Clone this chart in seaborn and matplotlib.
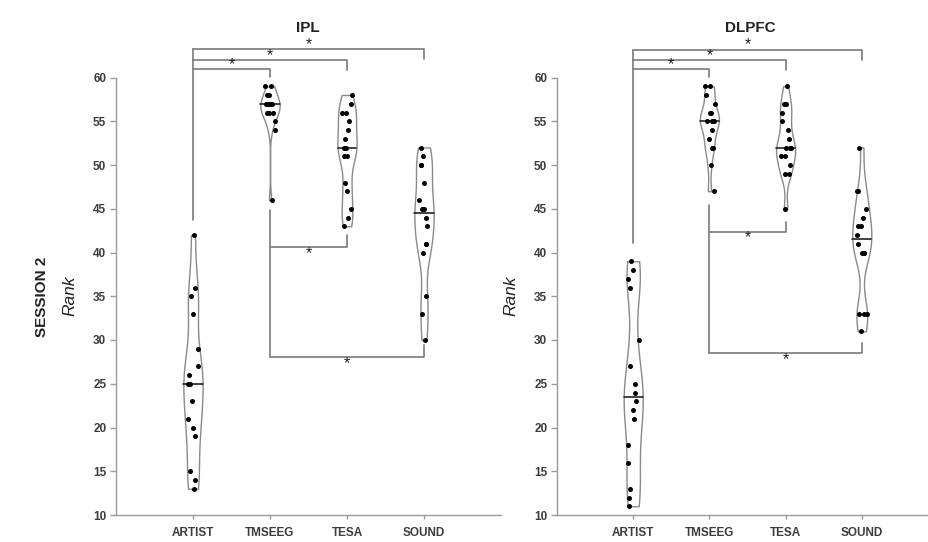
import numpy as np
import pandas as pd
import matplotlib
matplotlib.use("Agg")
import matplotlib.pyplot as plt
import seaborn as sns

# Rank of each pipeline per participant, session 2
groups = ["ARTIST", "TMSEEG", "TESA", "SOUND"]

ipl_artist = [42, 36, 35, 33, 29, 27, 26, 25, 25, 23, 21, 20, 19, 15, 14, 13]
ipl_tmseeg = [59, 59, 58, 58, 57, 57, 57, 57, 57, 56, 56, 56, 56, 55, 54, 46]
ipl_tesa = [58, 57, 56, 56, 55, 54, 53, 52, 52, 51, 51, 48, 47, 45, 44, 43]
ipl_sound = [52, 51, 50, 50, 48, 46, 45, 45, 44, 43, 41, 41, 40, 35, 33, 30]

dlpfc_artist = [39, 38, 37, 36, 30, 27, 25, 24, 23, 22, 21, 18, 16, 13, 12, 11]
dlpfc_tmseeg = [59, 59, 58, 57, 56, 56, 55, 55, 55, 55, 54, 53, 52, 52, 50, 47]
dlpfc_tesa = [59, 57, 57, 56, 55, 54, 53, 52, 52, 52, 51, 51, 50, 49, 49, 45]
dlpfc_sound = [52, 47, 47, 45, 44, 43, 43, 42, 41, 40, 40, 40, 33, 33, 33, 31]

panel_titles = ["IPL", "DLPFC"]
row_label = "SESSION 2"
y_ticks = [10, 15, 20, 25, 30, 35, 40, 45, 50, 55, 60]


def long_frame(values_by_group):
    rows = []
    for g, vals in zip(groups, values_by_group):
        rows += [(g, v) for v in vals]
    return pd.DataFrame(rows, columns=["pipeline", "rank"])


frames = [
    long_frame([ipl_artist, ipl_tmseeg, ipl_tesa, ipl_sound]),
    long_frame([dlpfc_artist, dlpfc_tmseeg, dlpfc_tesa, dlpfc_sound]),
]

# significance brackets: anchor group, [(target, line_y, tick_end_y, star_y)], anchor end
brackets = [
    {
        "top": (0, [(1, 60.97, 60.09, 61.5), (2, 62.0, 60.86, 62.55), (3, 63.22, 62.08, 63.75)], 43.7),
        "low": (1, [(2, 40.64, 42.0, 39.9), (3, 28.07, 29.43, 27.35)], 44.86),
    },
    {
        "top": (0, [(1, 60.94, 60.09, 61.5), (2, 62.0, 60.86, 62.55), (3, 63.14, 62.0, 63.75)], 41.06),
        "low": (1, [(2, 42.39, 43.53, 41.7), (3, 28.49, 29.64, 27.8)], 45.43),
    },
]

sns.set_style("ticks")
plt.rcParams["font.family"] = ["Liberation Sans", "DejaVu Sans"]

fig = plt.figure(figsize=(9.29, 5.42), dpi=100)
W, H = 929.0, 542.0
ax_left = fig.add_axes([116 / W, (H - 515) / H, 385 / W, (515 - 77.5) / H])
ax_right = fig.add_axes([557 / W, (H - 515) / H, 381 / W, (515 - 77.5) / H])

axis_grey = "#9a9a9a"
text_grey = "#3c3c3c"
np.random.seed(3)

for ax, df, title, br in zip([ax_left, ax_right], frames, panel_titles, brackets):
    n_before = len(ax.lines)
    sns.violinplot(
        data=df, x="pipeline", y="rank", order=groups, ax=ax,
        cut=0, inner="quart", density_norm="width", width=0.25,
        bw_adjust=0.6, color="white", linecolor="#8a8a8a", linewidth=1.0,
    )
    # keep only the median of the quartile lines, drawn solid
    new_lines = ax.lines[n_before:]
    for i, ln in enumerate(list(new_lines)):
        if i % 3 != 1:
            ln.remove()
        else:
            ln.set_linestyle("-")
            ln.set_color("#222222")
            ln.set_linewidth(1.2)
    for coll in ax.collections:
        coll.set_facecolor("white")
        coll.set_edgecolor("#8a8a8a")

    sns.stripplot(
        data=df, x="pipeline", y="rank", order=groups, ax=ax,
        color="black", size=3.6, jitter=0.075, linewidth=0,
    )

    ax.set_xlim(-1, 4)
    ax.set_ylim(10, 60)
    ax.set_yticks(y_ticks)
    ax.set_xlabel("")
    ax.set_ylabel("Rank", fontsize=12.5, fontstyle="italic", color="#222222")
    ax.yaxis.set_label_coords(-0.10, 0.5)
    sns.despine(ax=ax)
    for side in ["left", "bottom"]:
        ax.spines[side].set_color(axis_grey)
        ax.spines[side].set_linewidth(1.0)
    ax.tick_params(axis="y", length=4, width=1, color=axis_grey, pad=3)
    ax.tick_params(axis="x", length=3, width=1, color=axis_grey, pad=6)
    for lab in ax.get_yticklabels() + ax.get_xticklabels():
        lab.set_fontweight("bold")
        lab.set_color(text_grey)
        lab.set_fontsize(8.5)

    # significance brackets
    bcol = "#7a7a7a"
    a, items, a_end = br["top"]
    ax.plot([a, a], [max(i[1] for i in items), a_end], color=bcol, lw=1.2, clip_on=False)
    for t, ly, ty, sy in items:
        ax.plot([a, t, t], [ly, ly, ty], color=bcol, lw=1.2, clip_on=False)
        ax.text((a + t) / 2, sy, "*", ha="center", va="center", fontsize=11.5,
                color="#222222", clip_on=False)
    a, items, a_end = br["low"]
    ax.plot([a, a], [a_end, min(i[1] for i in items)], color=bcol, lw=1.2, clip_on=False)
    for t, ly, ty, sy in items:
        ax.plot([a, t, t], [ly, ly, ty], color=bcol, lw=1.2, clip_on=False)
        ax.text((a + t) / 2, sy, "*", ha="center", va="center", fontsize=11.5,
                color="#222222", clip_on=False)

fig.text(308 / W, 1 - 28 / H, panel_titles[0], ha="center", va="center",
         fontsize=11, fontweight="bold", color="#222222")
fig.text(750 / W, 1 - 28 / H, panel_titles[1], ha="center", va="center",
         fontsize=11, fontweight="bold", color="#222222")
fig.text(42 / W, 1 - 297 / H, row_label, ha="center", va="center", rotation=90,
         fontsize=11, fontweight="bold", color="#222222")

fig.savefig("out.png", dpi=100)
